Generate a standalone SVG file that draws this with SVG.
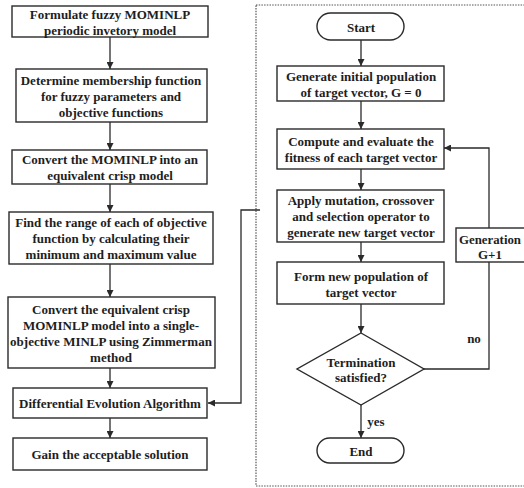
<svg xmlns="http://www.w3.org/2000/svg" width="524" height="488" viewBox="0 0 524 488">
<defs>
<style>
.b{fill:#fff;stroke:#2a2a2a;stroke-width:1.4}
.t{font-family:"Liberation Serif","Times New Roman",serif;font-weight:bold;font-size:13px;fill:#1e1e1e;text-anchor:middle;dominant-baseline:central}
.c{fill:none;stroke:#2a2a2a;stroke-width:1.3}
.f{fill:none;stroke:#555;stroke-width:1.2;stroke-dasharray:1.5 1.2}
</style>
<marker id="a" viewBox="0 0 8 8" refX="8" refY="4" markerWidth="7" markerHeight="7" markerUnits="userSpaceOnUse" orient="auto">
<path d="M0,0 L8,4 L0,8 z" fill="#2a2a2a"/>
</marker>
</defs>
<rect width="524" height="488" fill="#fff"/>
<rect class="f" x="256" y="5" width="280" height="481"/>

<g id="connectors">
<line class="c" x1="110" y1="37" x2="110" y2="69" marker-end="url(#a)"/>
<line class="c" x1="110" y1="122" x2="110" y2="150" marker-end="url(#a)"/>
<line class="c" x1="110" y1="184" x2="110" y2="212" marker-end="url(#a)"/>
<line class="c" x1="110" y1="264" x2="110" y2="297" marker-end="url(#a)"/>
<line class="c" x1="110" y1="368" x2="110" y2="388" marker-end="url(#a)"/>
<line class="c" x1="110" y1="418" x2="110" y2="438" marker-end="url(#a)"/>
<polyline class="c" points="260,210 241,210 241,403 208,403" marker-end="url(#a)"/>
<line class="c" x1="361" y1="40" x2="361" y2="66" marker-end="url(#a)"/>
<line class="c" x1="361" y1="101" x2="361" y2="129" marker-end="url(#a)"/>
<line class="c" x1="361" y1="169" x2="361" y2="190" marker-end="url(#a)"/>
<line class="c" x1="361" y1="242" x2="361" y2="262" marker-end="url(#a)"/>
<line class="c" x1="361" y1="304" x2="361" y2="333" marker-end="url(#a)"/>
<line class="c" x1="361" y1="405" x2="361" y2="438" marker-end="url(#a)"/>
<polyline class="c" points="424,369 489,369 489,262"/>
<polyline class="c" points="489,228 489,148 444,148" marker-end="url(#a)"/>
<text class="t" x="376" y="421">yes</text>
<text class="t" x="474" y="338">no</text>
</g>

<g id="n1"><rect class="b" x="12" y="6" width="196" height="31"/>
<text class="t" x="110" y="14">Formulate fuzzy MOMINLP</text>
<text class="t" x="110" y="30">periodic invetory model</text></g>
<g id="n2"><rect class="b" x="16" y="69" width="191" height="53"/>
<text class="t" x="111" y="80">Determine membership function</text>
<text class="t" x="111" y="96">for fuzzy parameters and</text>
<text class="t" x="111" y="112">objective functions</text></g>
<g id="n3"><rect class="b" x="12" y="150" width="195" height="34"/>
<text class="t" x="110" y="159">Convert the MOMINLP into an</text>
<text class="t" x="110" y="175">equivalent crisp  model</text></g>
<g id="n4"><rect class="b" x="9" y="212" width="204" height="52"/>
<text class="t" x="111" y="222">Find the range of each of objective</text>
<text class="t" x="111" y="238">function by calculating their</text>
<text class="t" x="111" y="254">minimum and maximum value</text></g>
<g id="n5"><rect class="b" x="8" y="297" width="207" height="71"/>
<text class="t" x="111" y="309">Convert the equivalent crisp</text>
<text class="t" x="111" y="325">MOMINLP model into a single-</text>
<text class="t" x="111" y="341">objective MINLP using Zimmerman</text>
<text class="t" x="111" y="357">method</text></g>
<g id="n6"><rect class="b" x="13" y="388" width="194" height="30"/>
<text class="t" x="110" y="403">Differential Evolution Algorithm</text></g>
<g id="n7"><rect class="b" x="13" y="438" width="194" height="32"/>
<text class="t" x="110" y="454">Gain the acceptable solution</text></g>

<g id="start"><rect class="b" x="317" y="13" width="87" height="27" rx="13.5"/>
<text class="t" x="361" y="27">Start</text></g>
<g id="generate"><rect class="b" x="277" y="66" width="167" height="35"/>
<text class="t" x="361" y="76">Generate initial population</text>
<text class="t" x="361" y="92">of target vector, G = 0</text></g>
<g id="compute"><rect class="b" x="277" y="129" width="167" height="40"/>
<text class="t" x="361" y="141">Compute and evaluate the</text>
<text class="t" x="361" y="157">fitness of each target vector</text></g>
<g id="apply"><rect class="b" x="277" y="190" width="167" height="52"/>
<text class="t" x="361" y="200">Apply mutation, crossover</text>
<text class="t" x="361" y="216">and selection operator to</text>
<text class="t" x="361" y="232">generate new target vector</text></g>
<g id="form"><rect class="b" x="277" y="262" width="167" height="42"/>
<text class="t" x="361" y="276">Form new population of</text>
<text class="t" x="361" y="292">target vector</text></g>
<g id="term"><polygon class="b" points="361,333 424,369 361,405 297,369"/>
<text class="t" x="361" y="362">Termination</text>
<text class="t" x="361" y="377">satisfied?</text></g>
<g id="end"><rect class="b" x="317" y="438" width="87" height="25" rx="12.5"/>
<text class="t" x="361" y="451">End</text></g>
<g id="gen"><rect class="b" x="456" y="228" width="70" height="34"/>
<text class="t" x="490" y="239" textLength="62" lengthAdjust="spacingAndGlyphs">Generation</text>
<text class="t" x="490" y="254">G+1</text></g>
</svg>
